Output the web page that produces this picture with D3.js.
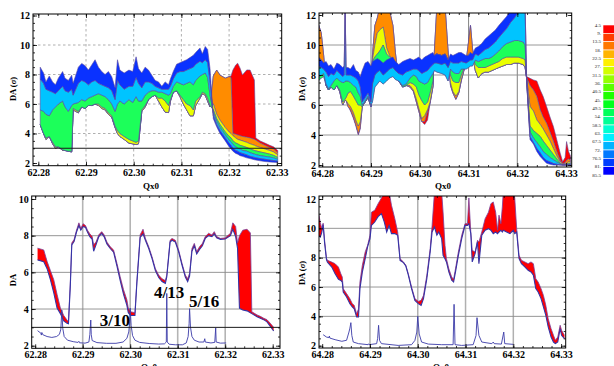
<!DOCTYPE html>
<html>
<head>
<meta charset="utf-8">
<script src="https://cdn.jsdelivr.net/npm/d3@7/dist/d3.min.js"></script>
<style>
  body { margin: 0; background: #fff; }
  svg { display: block; }
</style>
</head>
<body>
<svg id="chart" width="614" height="366"></svg>
<script>
// ---- tick values ----
const qxTicksLow = [62.28, 62.29, 62.30, 62.31, 62.32, 62.33];
const qxTicksHigh = [64.28, 64.29, 64.30, 64.31, 64.32, 64.33];
const daTicks12 = [2, 4, 6, 8, 10, 12];
const daTicks10 = [2, 4, 6, 8, 10];
const angleTicks = [4.5, 9, 13.5, 18, 22.5, 27, 31.5, 36, 40.5, 45, 49.5, 54, 58.5, 63, 67.5, 72, 76.5, 81, 85.5];

// ---- top panels: DA per launch angle, rows = [Qx0, DA@4.5, 18, 31.5, 45, 58.5, 72, 85.5] ----
const layerAngles = [4.5, 18, 31.5, 45, 58.5, 72, 85.5];
const tlLayers = [
  [62.2804, 4.6, 4.6, 4.6, 4.6, 5.6, 7.7, 8.5],
  [62.2811, 4.0, 4.0, 4.0, 4.0, 5.5, 7.4, 8.1],
  [62.2816, 3.6, 3.6, 3.6, 3.7, 5.3, 7.0, 7.5],
  [62.2823, 3.8, 3.8, 3.8, 3.8, 5.2, 6.9, 7.9],
  [62.2830, 3.3, 3.3, 3.3, 3.4, 5.6, 6.8, 7.5],
  [62.2836, 3.0, 3.0, 3.0, 3.1, 5.8, 6.7, 7.3],
  [62.2842, 3.1, 3.1, 3.1, 3.1, 6.0, 6.9, 7.75],
  [62.2851, 2.85, 2.85, 2.85, 2.9, 6.2, 7.2, 8.2],
  [62.2856, 2.85, 2.85, 2.85, 2.85, 5.8, 6.9, 7.75],
  [62.2863, 2.8, 2.8, 2.8, 2.8, 5.5, 6.8, 7.6],
  [62.2870, 2.75, 2.75, 2.75, 2.8, 5.9, 7.0, 7.95],
  [62.2873, 5.6, 5.6, 5.6, 5.7, 6.0, 6.6, 7.4],
  [62.2884, 5.4, 5.4, 5.4, 5.5, 6.1, 7.4, 8.5],
  [62.2891, 5.8, 5.8, 5.8, 5.8, 6.3, 7.6, 8.75],
  [62.2898, 5.7, 5.7, 5.7, 5.7, 6.2, 7.5, 8.6],
  [62.2905, 5.9, 5.9, 5.9, 5.9, 6.4, 7.3, 8.3],
  [62.2912, 5.9, 5.9, 5.9, 5.9, 6.5, 7.5, 8.65],
  [62.2919, 6.0, 6.0, 6.0, 6.0, 6.6, 7.6, 9.0],
  [62.2926, 5.9, 5.9, 5.9, 6.0, 6.7, 7.4, 8.5],
  [62.2933, 5.7, 5.7, 5.7, 5.8, 6.6, 7.3, 8.2],
  [62.2940, 5.6, 5.6, 5.6, 5.7, 6.5, 7.2, 8.0],
  [62.2947, 5.3, 5.3, 5.3, 5.4, 6.3, 7.1, 8.2],
  [62.2954, 5.1, 5.1, 5.1, 5.2, 6.0, 6.9, 7.85],
  [62.2961, 4.4, 4.4, 4.4, 4.5, 5.5, 6.3, 7.1],
  [62.2966, 4.0, 4.0, 4.0, 4.2, 6.0, 7.6, 9.0],
  [62.2971, 3.8, 3.8, 3.8, 4.0, 6.2, 7.3, 8.3],
  [62.2980, 3.6, 3.6, 3.6, 3.8, 6.0, 7.0, 8.1],
  [62.2990, 3.35, 3.35, 3.35, 3.6, 6.3, 7.2, 8.3],
  [62.2998, 3.3, 3.3, 3.3, 3.5, 6.1, 7.2, 8.2],
  [62.3005, 3.25, 3.25, 3.25, 3.4, 6.5, 7.8, 9.2],
  [62.3010, 3.3, 3.3, 3.3, 3.5, 6.2, 7.4, 8.4],
  [62.3017, 5.5, 5.5, 5.5, 5.6, 6.2, 7.1, 8.1],
  [62.3024, 5.8, 5.8, 5.8, 5.9, 6.6, 7.5, 8.5],
  [62.3031, 6.3, 6.3, 6.3, 6.3, 6.8, 7.5, 8.3],
  [62.3038, 6.5, 6.5, 6.5, 6.5, 6.9, 7.4, 7.95],
  [62.3045, 6.6, 6.6, 6.6, 6.6, 6.9, 7.2, 7.6],
  [62.3052, 6.2, 6.2, 6.2, 6.4, 6.8, 7.1, 7.5],
  [62.3059, 5.8, 5.8, 5.8, 6.4, 6.8, 7.0, 7.2],
  [62.3066, 5.45, 5.45, 5.45, 6.2, 6.7, 7.0, 7.5],
  [62.3073, 5.42, 5.42, 5.42, 5.9, 6.6, 7.0, 7.3],
  [62.3077, 6.2, 6.2, 6.2, 6.3, 6.7, 7.2, 7.7],
  [62.3083, 6.8, 6.8, 6.8, 6.8, 7.2, 7.7, 8.2],
  [62.3090, 6.9, 6.9, 6.9, 6.9, 7.5, 8.1, 8.7],
  [62.3097, 6.5, 6.5, 6.5, 6.6, 7.4, 8.2, 8.8],
  [62.3104, 6.0, 6.0, 6.0, 6.3, 7.3, 8.2, 8.9],
  [62.3111, 5.6, 5.6, 5.6, 6.0, 7.4, 8.3, 9.0],
  [62.3118, 5.2, 5.2, 5.2, 5.9, 7.5, 8.4, 9.15],
  [62.3125, 5.2, 5.2, 5.2, 5.6, 7.3, 8.5, 9.3],
  [62.3130, 5.9, 5.9, 5.9, 6.2, 7.6, 8.7, 9.5],
  [62.3139, 6.4, 6.4, 6.4, 6.5, 7.9, 8.9, 9.8],
  [62.3144, 6.7, 6.7, 6.7, 6.8, 8.0, 8.8, 9.4],
  [62.3150, 6.6, 6.6, 6.6, 6.7, 8.1, 9.0, 9.9],
  [62.3155, 6.2, 6.2, 6.2, 6.4, 7.8, 8.8, 9.7],
  [62.3160, 5.8, 5.8, 5.8, 5.9, 6.6, 7.5, 8.4],
  [62.3167, 7.9, 7.9, 6.0, 5.6, 5.4, 5.2, 5.0],
  [62.3174, 8.3, 8.3, 5.3, 5.0, 4.8, 4.6, 4.45],
  [62.3181, 7.95, 7.95, 4.9, 4.6, 4.4, 4.2, 4.0],
  [62.3192, 7.75, 7.75, 4.4, 4.1, 3.9, 3.7, 3.5],
  [62.3200, 7.85, 7.85, 4.1, 3.8, 3.55, 3.35, 3.1],
  [62.3204, 7.9, 7.8, 4.0, 3.7, 3.45, 3.2, 2.95],
  [62.3208, 8.3, 4.0, 3.85, 3.5, 3.25, 3.0, 2.8],
  [62.3214, 8.65, 3.95, 3.7, 3.35, 3.1, 2.85, 2.65],
  [62.3218, 8.76, 3.9, 3.6, 3.3, 3.0, 2.8, 2.6],
  [62.3223, 8.43, 3.85, 3.55, 3.2, 2.95, 2.7, 2.5],
  [62.3228, 7.97, 3.8, 3.5, 3.15, 2.85, 2.65, 2.45],
  [62.3237, 8.31, 3.75, 3.4, 3.05, 2.8, 2.55, 2.35],
  [62.3244, 8.3, 3.7, 3.3, 2.95, 2.7, 2.45, 2.3],
  [62.3253, 7.63, 3.6, 3.2, 2.85, 2.6, 2.38, 2.22],
  [62.3256, 3.7, 3.55, 3.15, 2.82, 2.57, 2.35, 2.2],
  [62.3265, 3.5, 3.35, 3.05, 2.75, 2.5, 2.3, 2.15],
  [62.3275, 3.35, 3.2, 2.95, 2.68, 2.45, 2.25, 2.1],
  [62.3285, 3.2, 3.05, 2.85, 2.6, 2.4, 2.2, 2.07],
  [62.3293, 3.1, 2.95, 2.75, 2.52, 2.35, 2.17, 2.05],
  [62.3302, 2.85, 2.7, 2.55, 2.38, 2.25, 2.12, 2.03]
];

const trLayers = [
  [64.2792, 11.4, 11.4, 9.2, 7.6, 7.8, 8.6, 9.2],
  [64.2798, 10.8, 10.8, 9.0, 7.8, 8.0, 8.5, 9.0],
  [64.2803, 9.3, 9.3, 8.8, 7.9, 8.1, 8.4, 8.8],
  [64.2808, 7.3, 7.3, 7.3, 7.3, 7.4, 8.2, 8.9],
  [64.2813, 7.0, 7.0, 7.0, 7.0, 7.1, 7.9, 8.6],
  [64.2818, 7.2, 7.2, 7.2, 7.2, 7.3, 8.1, 8.7],
  [64.2824, 7.0, 7.0, 7.0, 7.0, 7.6, 8.0, 8.4],
  [64.2830, 7.3, 7.3, 7.3, 7.3, 7.8, 8.3, 8.8],
  [64.2836, 6.9, 6.9, 6.9, 7.0, 7.6, 8.1, 8.7],
  [64.2842, 6.0, 6.0, 6.0, 6.2, 7.5, 7.9, 8.5],
  [64.2845, 6.2, 6.2, 6.2, 6.3, 7.5, 8.0, 8.6],
  [64.2847, 6.3, 6.3, 6.3, 6.4, 7.6, 12.5, 12.5],
  [64.2849, 6.3, 6.3, 6.3, 6.5, 7.6, 8.0, 8.5],
  [64.2853, 5.9, 5.9, 6.1, 6.8, 7.6, 8.0, 8.5],
  [64.2858, 5.6, 5.7, 5.9, 6.9, 7.5, 8.0, 8.4],
  [64.2864, 5.1, 5.2, 5.5, 6.6, 7.3, 7.9, 8.7],
  [64.2869, 4.6, 4.7, 5.0, 6.3, 7.2, 7.8, 8.3],
  [64.2874, 4.0, 4.1, 4.6, 6.0, 6.8, 7.6, 8.2],
  [64.2878, 4.4, 4.5, 4.9, 6.0, 6.6, 7.2, 7.9],
  [64.2882, 5.9, 5.9, 5.9, 5.9, 6.0, 6.2, 8.3],
  [64.2888, 6.2, 6.2, 6.2, 6.2, 6.3, 6.5, 8.8],
  [64.2894, 6.5, 6.5, 6.5, 6.5, 6.6, 6.8, 8.9],
  [64.2900, 5.9, 5.9, 5.9, 5.9, 6.0, 6.2, 8.6],
  [64.2903, 9.3, 9.3, 9.0, 8.9, 6.2, 7.4, 8.9],
  [64.2908, 11.3, 11.3, 10.0, 9.2, 7.2, 8.0, 9.0],
  [64.2913, 11.8, 11.8, 10.8, 9.4, 7.4, 8.2, 9.1],
  [64.2918, 12.5, 12.5, 11.0, 9.6, 7.6, 8.3, 9.0],
  [64.2925, 12.5, 12.5, 11.2, 10.0, 7.4, 8.0, 8.8],
  [64.2932, 12.5, 12.5, 9.8, 9.4, 7.6, 8.2, 9.0],
  [64.2938, 12.3, 12.3, 9.3, 9.2, 7.8, 8.4, 9.1],
  [64.2945, 11.3, 11.3, 9.0, 9.0, 7.9, 8.5, 9.2],
  [64.2950, 9.5, 9.5, 8.9, 8.9, 7.7, 8.3, 8.9],
  [64.2957, 7.6, 7.6, 7.6, 7.6, 7.6, 8.1, 8.7],
  [64.2965, 7.2, 7.2, 7.2, 7.2, 7.3, 8.0, 8.9],
  [64.2972, 7.3, 7.3, 7.3, 7.3, 7.4, 8.2, 9.0],
  [64.2980, 7.2, 7.2, 7.3, 7.5, 7.8, 8.3, 9.1],
  [64.2987, 6.9, 6.9, 7.0, 7.4, 8.0, 8.4, 9.0],
  [64.2993, 6.2, 6.2, 6.4, 7.2, 7.9, 8.4, 9.1],
  [64.2998, 5.6, 5.6, 5.8, 6.7, 7.6, 8.3, 9.2],
  [64.3004, 4.9, 4.9, 5.1, 6.3, 7.5, 8.1, 9.0],
  [64.3010, 4.7, 4.9, 5.3, 6.0, 7.4, 8.2, 9.2],
  [64.3016, 5.0, 5.6, 5.7, 6.2, 7.5, 8.3, 9.3],
  [64.3021, 6.1, 6.1, 6.2, 6.8, 7.8, 8.5, 9.4],
  [64.3027, 7.2, 7.2, 7.3, 7.6, 8.1, 8.7, 9.5],
  [64.3030, 9.6, 9.6, 9.3, 9.3, 8.3, 8.8, 9.3],
  [64.3035, 12.5, 12.5, 9.4, 9.4, 8.2, 8.8, 9.4],
  [64.3045, 12.5, 12.5, 9.3, 9.3, 8.1, 8.7, 9.3],
  [64.3052, 12.5, 12.5, 9.4, 9.4, 8.0, 8.8, 9.4],
  [64.3058, 9.6, 9.6, 9.0, 9.0, 7.6, 8.5, 9.0],
  [64.3063, 7.3, 7.3, 7.5, 8.0, 8.4, 8.9, 9.4],
  [64.3068, 6.8, 6.8, 6.9, 7.6, 8.2, 8.8, 9.3],
  [64.3074, 6.35, 6.4, 6.6, 7.5, 8.1, 8.8, 9.4],
  [64.3080, 6.8, 6.8, 6.9, 7.5, 8.1, 8.8, 9.5],
  [64.3085, 7.6, 7.6, 7.7, 8.0, 8.4, 8.9, 9.5],
  [64.3095, 8.9, 8.9, 8.8, 8.8, 8.4, 8.8, 9.3],
  [64.3100, 10.2, 10.2, 9.4, 9.3, 8.5, 8.9, 9.3],
  [64.3104, 11.3, 11.3, 9.5, 9.4, 8.6, 9.0, 9.5],
  [64.3108, 9.8, 9.8, 9.3, 9.3, 8.6, 9.0, 9.4],
  [64.3114, 8.3, 8.3, 8.3, 8.7, 9.0, 9.4, 9.8],
  [64.3120, 7.8, 7.8, 7.8, 8.5, 8.9, 9.3, 9.9],
  [64.3127, 8.1, 8.1, 8.1, 8.5, 9.0, 9.5, 10.1],
  [64.3134, 8.2, 8.2, 8.2, 8.5, 9.1, 9.7, 10.4],
  [64.3141, 8.2, 8.2, 8.2, 8.6, 9.1, 9.8, 10.6],
  [64.3148, 8.3, 8.3, 8.3, 8.7, 9.2, 10.0, 10.8],
  [64.3155, 8.4, 8.4, 8.4, 8.8, 9.4, 10.2, 11.0],
  [64.3162, 8.5, 8.5, 8.5, 8.9, 9.6, 10.5, 11.3],
  [64.3170, 8.6, 8.6, 8.6, 9.1, 9.9, 10.8, 11.6],
  [64.3178, 8.7, 8.7, 8.7, 9.2, 10.1, 11.1, 11.9],
  [64.3186, 8.7, 8.7, 8.7, 9.2, 10.2, 11.5, 12.3],
  [64.3194, 8.8, 8.8, 8.8, 9.2, 10.3, 11.8, 12.5],
  [64.3202, 8.8, 8.8, 8.8, 9.2, 10.3, 12.2, 12.5],
  [64.3212, 8.7, 8.7, 8.7, 9.1, 10.2, 12.5, 12.5],
  [64.3216, 8.5, 8.5, 8.5, 9.0, 10.0, 12.5, 12.5],
  [64.3219, 7.9, 7.85, 7.8, 7.75, 7.7, 7.65, 7.6],
  [64.3226, 7.78, 7.3, 5.9, 4.6, 4.2, 3.9, 3.7],
  [64.3233, 7.67, 7.0, 5.6, 4.3, 3.8, 3.5, 3.4],
  [64.3240, 7.6, 6.56, 5.0, 4.1, 3.5, 3.1, 2.9],
  [64.3247, 7.0, 5.67, 4.7, 3.9, 3.2, 2.8, 2.56],
  [64.3253, 6.56, 5.2, 4.4, 3.6, 2.9, 2.5, 2.35],
  [64.3260, 5.9, 4.78, 4.0, 3.3, 2.7, 2.3, 2.11],
  [64.3267, 5.2, 4.2, 3.6, 3.0, 2.5, 2.2, 2.05],
  [64.3274, 4.56, 3.6, 3.1, 2.7, 2.35, 2.1, 2.0],
  [64.3281, 3.67, 2.9, 2.6, 2.4, 2.2, 2.05, 2.0],
  [64.3288, 2.78, 2.3, 2.2, 2.1, 2.05, 2.0, 2.0],
  [64.3293, 2.22, 2.1, 2.05, 2.02, 2.0, 2.0, 2.0],
  [64.3298, 2.5, 2.15, 2.08, 2.03, 2.0, 2.0, 2.0],
  [64.3301, 3.56, 2.3, 2.1, 2.05, 2.0, 2.0, 2.0],
  [64.3305, 2.9, 2.4, 2.2, 2.1, 2.02, 2.0, 2.0],
  [64.3309, 2.6, 2.3, 2.2, 2.1, 2.05, 2.02, 2.0]
];

// ---- bottom panels: rows = [Qx0, DA upper, DA lower] ----
const blBand = [
  [62.2805, 7.32, 6.68], [62.2818, 7.22, 6.58], [62.2825, 6.6, 6.2], [62.2832, 6.1, 5.6],
  [62.2839, 5.6, 4.9], [62.2846, 4.8, 4.05], [62.2853, 4.05, 3.75], [62.2860, 3.65, 3.35],
  [62.2867, 3.4, 3.22], [62.2870, 3.3, 3.2], [62.2874, 5.5, 5.3], [62.2877, 7.6, 7.5],
  [62.2882, 7.8, 7.7], [62.2887, 8.3, 8.2], [62.2892, 8.7, 8.55], [62.2896, 8.4, 8.3],
  [62.2901, 8.65, 8.5], [62.2906, 8.55, 8.45], [62.2910, 8.3, 8.2], [62.2915, 8.1, 7.95],
  [62.2920, 7.95, 7.8], [62.2923, 7.5, 7.15], [62.2928, 7.65, 7.5], [62.2934, 8.05, 7.95],
  [62.2940, 8.22, 8.12], [62.2945, 8.05, 7.95], [62.2951, 7.65, 7.55], [62.2958, 7.4, 7.3],
  [62.2965, 7.22, 7.1], [62.2972, 6.5, 6.35], [62.2979, 5.75, 5.55], [62.2986, 5.05, 4.8],
  [62.2993, 4.5, 4.2], [62.2996, 4.05, 3.8], [62.3001, 3.85, 3.65], [62.3010, 3.8, 3.65],
  [62.3014, 5.5, 5.4], [62.3021, 8.05, 7.9], [62.3027, 8.35, 8.1], [62.3032, 7.85, 7.75],
  [62.3039, 7.4, 7.3], [62.3046, 6.85, 6.75], [62.3053, 6.2, 6.1], [62.3060, 5.85, 5.72],
  [62.3067, 5.65, 5.5], [62.3074, 5.55, 5.4], [62.3077, 5.85, 5.75], [62.3084, 7.75, 7.65],
  [62.3088, 7.85, 7.75], [62.3095, 7.75, 7.65], [62.3102, 7.22, 7.12], [62.3109, 6.5, 6.4],
  [62.3116, 5.85, 5.75], [62.3121, 5.65, 5.5], [62.3125, 5.95, 5.8], [62.3130, 7.3, 7.15],
  [62.3135, 7.58, 7.45], [62.3140, 7.13, 7.0], [62.3146, 7.4, 7.25], [62.3152, 7.58, 7.45],
  [62.3158, 7.95, 7.85], [62.3165, 8.13, 8.0], [62.3172, 8.04, 7.95], [62.3177, 8.22, 8.1],
  [62.3182, 7.95, 7.88], [62.3190, 7.85, 7.8], [62.3200, 7.88, 7.82], [62.3211, 8.13, 8.0],
  [62.3216, 8.7, 8.35], [62.3222, 8.5, 7.95], [62.3226, 7.6, 7.3], [62.3230, 8.0, 4.05],
  [62.3237, 8.3, 3.95], [62.3246, 8.35, 3.9], [62.3253, 8.15, 3.8], [62.3256, 3.85, 3.75],
  [62.3267, 3.68, 3.58], [62.3274, 3.6, 3.5], [62.3281, 3.5, 3.42], [62.3288, 3.42, 3.3],
  [62.3295, 3.22, 3.05], [62.3302, 3.0, 2.8]
];
const blResonance = [
  [62.2805, 2.82], [62.2812, 2.68], [62.2813, 2.58], [62.2814, 2.72], [62.2816, 2.6],
  [62.2825, 2.5], [62.2835, 2.45], [62.2845, 2.5], [62.2851, 2.62], [62.2854, 2.9],
  [62.2856, 3.95], [62.2858, 2.95], [62.2861, 2.5], [62.2868, 2.3], [62.2880, 2.22],
  [62.2890, 2.18], [62.2892, 2.24], [62.2893, 2.16], [62.2905, 2.14], [62.2913, 2.2],
  [62.2915, 2.6], [62.2917, 3.4], [62.2918, 2.6], [62.2920, 2.28], [62.2930, 2.17],
  [62.2950, 2.13], [62.2970, 2.13], [62.2985, 2.2], [62.2993, 2.4], [62.2997, 2.75],
  [62.2999, 3.3], [62.3000, 4.05], [62.3002, 3.1], [62.3005, 2.55], [62.3010, 2.3],
  [62.3020, 2.18], [62.3040, 2.12], [62.3060, 2.09], [62.3072, 2.1], [62.3076, 2.2],
  [62.3077, 4.85], [62.3078, 2.2], [62.3082, 2.08], [62.3095, 2.05], [62.3110, 2.05],
  [62.3118, 2.15], [62.3122, 2.5], [62.3124, 3.2], [62.3125, 4.02], [62.3127, 3.0],
  [62.3130, 2.5], [62.3135, 2.3], [62.3145, 2.2], [62.3155, 2.2], [62.3157, 2.38],
  [62.3158, 2.2], [62.3170, 2.15], [62.3178, 2.18], [62.3180, 2.97], [62.3181, 2.2],
  [62.3190, 2.14], [62.3202, 2.15]
];
const resonanceLabels = [
  { text: '3/10', qx: 62.2936, da: 3.09 },
  { text: '4/13', qx: 62.3050, da: 4.59 },
  { text: '5/16', qx: 62.3124, da: 4.13 }
];

const brBand = [
  [64.2792, 11.1, 9.5], [64.2796, 10.4, 9.4], [64.2799, 10.0, 9.7], [64.2802, 10.35, 10.25],
  [64.2805, 9.2, 9.0], [64.2809, 7.95, 7.85], [64.2811, 7.82, 7.7], [64.2820, 7.7, 7.36],
  [64.2827, 7.59, 6.9], [64.2834, 7.36, 6.52], [64.2839, 6.9, 6.45], [64.2842, 6.68, 6.34],
  [64.2844, 5.89, 5.66], [64.2851, 5.55, 5.32], [64.2858, 5.2, 4.86], [64.2863, 4.86, 4.64],
  [64.2867, 4.75, 4.52], [64.2872, 4.18, 3.96], [64.2876, 4.5, 3.96], [64.2879, 6.34, 5.89],
  [64.2884, 7.48, 7.02], [64.2890, 8.39, 7.93], [64.2895, 8.84, 8.73], [64.2900, 9.52, 9.3],
  [64.2903, 11.1, 10.2], [64.2910, 11.23, 10.43], [64.2917, 11.68, 10.8], [64.2924, 12.07, 11.0],
  [64.2930, 12.5, 10.43], [64.2935, 12.5, 9.75], [64.2940, 12.5, 10.2], [64.2945, 11.57, 9.64],
  [64.2952, 10.66, 9.64], [64.2958, 9.75, 9.53], [64.2963, 7.93, 7.82], [64.2970, 7.71, 7.66],
  [64.2975, 7.48, 7.43], [64.2980, 6.93, 6.84], [64.2987, 6.0, 5.89], [64.2994, 5.21, 5.09],
  [64.3001, 5.02, 4.87], [64.3007, 5.09, 4.75], [64.3012, 5.43, 5.21], [64.3019, 6.8, 6.57],
  [64.3026, 8.62, 8.39], [64.3030, 10.2, 9.75], [64.3035, 12.5, 10.09], [64.3040, 12.5, 9.53],
  [64.3044, 12.5, 9.75], [64.3050, 12.5, 9.3], [64.3053, 11.1, 8.16], [64.3057, 8.84, 7.93],
  [64.3060, 7.93, 7.71], [64.3065, 7.25, 7.03], [64.3071, 6.68, 6.46], [64.3075, 6.53, 6.34],
  [64.3079, 7.25, 7.03], [64.3085, 8.39, 8.16], [64.3092, 9.53, 9.3], [64.3099, 10.32, 10.2],
  [64.3104, 10.32, 10.2], [64.3107, 12.07, 10.32], [64.3111, 9.75, 9.64], [64.3114, 8.5, 7.71],
  [64.3120, 8.39, 8.28], [64.3125, 9.18, 9.07], [64.3128, 9.07, 7.59], [64.3134, 9.75, 9.53],
  [64.3141, 10.66, 9.87], [64.3148, 11.1, 9.98], [64.3153, 11.68, 9.87], [64.3158, 11.8, 9.64],
  [64.3163, 11.1, 9.75], [64.3167, 9.87, 9.64], [64.3170, 10.9, 9.75], [64.3174, 10.32, 9.87],
  [64.3177, 11.46, 9.75], [64.3179, 12.5, 9.87], [64.3186, 12.5, 9.75], [64.3193, 12.5, 9.64],
  [64.3200, 12.5, 9.87], [64.3203, 12.07, 9.64], [64.3207, 9.98, 9.75], [64.3212, 8.16, 7.93],
  [64.3217, 7.82, 7.59], [64.3224, 7.71, 7.37], [64.3231, 7.59, 7.14], [64.3237, 7.71, 7.03],
  [64.3242, 7.59, 6.8], [64.3247, 6.57, 5.89], [64.3252, 6.34, 5.66], [64.3258, 5.89, 5.21],
  [64.3263, 5.43, 4.64], [64.3268, 4.75, 4.07], [64.3273, 3.84, 3.28], [64.3279, 3.16, 2.59],
  [64.3284, 2.71, 2.25], [64.3288, 2.37, 2.14], [64.3293, 2.59, 2.25], [64.3298, 3.39, 3.16],
  [64.3301, 3.05, 2.71], [64.3307, 2.71, 2.48]
];
const brResonance = [
  [64.2802, 2.75], [64.2809, 2.59], [64.2814, 2.55], [64.2815, 2.66], [64.2816, 2.52],
  [64.2827, 2.41], [64.2841, 2.3], [64.2851, 2.37], [64.2856, 2.93], [64.2858, 3.2],
  [64.2860, 3.57], [64.2862, 2.7], [64.2865, 2.25], [64.2876, 2.14], [64.2896, 2.07],
  [64.2897, 2.13], [64.2898, 2.07], [64.2914, 2.14], [64.2916, 2.5], [64.2918, 3.39],
  [64.2920, 2.36], [64.2924, 2.14], [64.2959, 2.02], [64.2987, 2.07], [64.2994, 2.36],
  [64.2998, 2.93], [64.3000, 4.0], [64.3003, 2.8], [64.3008, 2.25], [64.3022, 2.11],
  [64.3050, 2.07], [64.3074, 2.07], [64.3076, 4.82], [64.3078, 2.07], [64.3092, 2.02],
  [64.3116, 2.07], [64.3122, 2.7], [64.3124, 3.91], [64.3128, 2.7], [64.3134, 2.25],
  [64.3155, 2.14], [64.3158, 2.25], [64.3160, 2.14], [64.3175, 2.11], [64.3180, 2.93],
  [64.3182, 2.14], [64.3200, 2.09]
];

// ---- styling ----
const FONT = '"Liberation Serif", "Times New Roman", serif';
const BAND_COLORS = ['#ff0000', '#ff8c00', '#eaff00', '#1cff5a', '#00c4ff', '#0a32ff'];
const OUTLINE = '#5c4a9e';

const svg = d3.select('#chart');
const defs = svg.append('defs');

const panels = {
  tl: { id: 'tl', frame: [33, 14, 281.7, 165.7], xd: [62.28, 62.33], xr: [38.3, 276.8], yd: [2, 12], yr: [163, 15.5],
        xTicks: qxTicksLow, yTicks: daTicks12, gridV: { c: '#9a9a9a', w: 0.8, dash: '2.5,2.5' }, gridH: { c: '#9a9a9a', w: 0.8, dash: '2.5,2.5' } },
  tr: { id: 'tr', frame: [319, 13, 571.7, 167], xd: [64.28, 64.33], xr: [322.2, 566.1], yd: [2, 12], yr: [165, 15],
        xTicks: qxTicksHigh, yTicks: daTicks12, gridV: { c: '#8c8c8c', w: 1.1 }, gridH: { c: '#8c8c8c', w: 0.9 } },
  bl: { id: 'bl', frame: [31.7, 196, 280, 348.3], xd: [62.28, 62.33], xr: [35.2, 272.7], yd: [2, 10], yr: [345.7, 199],
        xTicks: qxTicksLow, yTicks: daTicks10, gridV: { c: '#b4b4b4', w: 1.6 }, gridH: { c: '#8a8a8a', w: 0.9 } },
  br: { id: 'br', frame: [319, 196, 565.7, 348], xd: [64.28, 64.33], xr: [322.2, 561.1], yd: [2, 12], yr: [345.7, 199],
        xTicks: qxTicksHigh, yTicks: daTicks12, gridV: { c: '#b0b0b0', w: 1.5 }, gridH: { c: '#8a8a8a', w: 0.9 } }
};

function setup(cfg) {
  const x = d3.scaleLinear().domain(cfg.xd).range(cfg.xr);
  const y = d3.scaleLinear().domain(cfg.yd).range(cfg.yr);
  const [fx0, fy0, fx1, fy1] = cfg.frame;
  defs.append('clipPath').attr('id', 'clip-' + cfg.id)
    .append('rect').attr('x', fx0).attr('y', fy0).attr('width', fx1 - fx0).attr('height', fy1 - fy0);
  const root = svg.append('g');
  const grid = root.append('g');
  grid.selectAll('line.gv').data(cfg.xTicks.slice(1, -1)).join('line')
    .attr('x1', d => x(d)).attr('x2', d => x(d)).attr('y1', fy0).attr('y2', fy1)
    .attr('stroke', cfg.gridV.c).attr('stroke-width', cfg.gridV.w).attr('stroke-dasharray', cfg.gridV.dash || null);
  grid.selectAll('line.gh').data(cfg.yTicks.slice(1, -1)).join('line')
    .attr('y1', d => y(d)).attr('y2', d => y(d)).attr('x1', fx0).attr('x2', fx1)
    .attr('stroke', cfg.gridH.c).attr('stroke-width', cfg.gridH.w).attr('stroke-dasharray', cfg.gridH.dash || null);
  const plot = root.append('g').attr('clip-path', `url(#clip-${cfg.id})`);
  return { x, y, root, plot };
}

function drawLayers(ctx, rows) {
  for (let k = 0; k < layerAngles.length - 1; k++) {
    const area = d3.area()
      .x(d => ctx.x(d[0]))
      .y0(d => ctx.y(d[k + 1]))
      .y1(d => ctx.y(d[k + 2]));
    ctx.plot.append('path').datum(rows).attr('d', area)
      .attr('fill', BAND_COLORS[k]).attr('stroke', OUTLINE)
      .attr('stroke-width', 0.6).attr('stroke-linejoin', 'round');
  }
}

function drawBand(ctx, rows, res) {
  const area = d3.area().x(d => ctx.x(d[0])).y0(d => ctx.y(d[2])).y1(d => ctx.y(d[1]));
  ctx.plot.append('path').datum(rows).attr('d', area).attr('fill', '#ff0000');
  ctx.plot.append('path').datum(rows)
    .attr('d', d3.line().x(d => ctx.x(d[0])).y(d => ctx.y(d[1])))
    .attr('fill', 'none').attr('stroke', '#7a3f9a').attr('stroke-width', 0.8);
  ctx.plot.append('path').datum(rows)
    .attr('d', d3.line().x(d => ctx.x(d[0])).y(d => ctx.y(d[2])))
    .attr('fill', 'none').attr('stroke', '#3434a8').attr('stroke-width', 1.1);
  ctx.plot.append('path').datum(res)
    .attr('d', d3.line().x(d => ctx.x(d[0])).y(d => ctx.y(d[1])))
    .attr('fill', 'none').attr('stroke', '#3b3ba8').attr('stroke-width', 0.9);
}

function finish(cfg, ctx, refLine) {
  const [fx0, fy0, fx1, fy1] = cfg.frame;
  const { x, y, root } = ctx;
  if (refLine) {
    root.append('line').attr('x1', fx0).attr('x2', fx1).attr('y1', y(refLine)).attr('y2', y(refLine))
      .attr('stroke', '#1a1a1a').attr('stroke-width', 1);
  }
  const lo = Math.ceil(x.invert(fx0) / 0.002 - 1e-6), hi = Math.floor(x.invert(fx1) / 0.002 + 1e-6);
  const minorX = d3.range(lo, hi + 1).map(k => k * 0.002);
  const ylo = Math.ceil(y.invert(fy1) / 0.5), yhi = Math.floor(y.invert(fy0) / 0.5);
  const minorY = d3.range(ylo, yhi + 1).map(k => k * 0.5);

  const axes = [
    [d3.axisBottom(x).tickValues(cfg.xTicks).tickFormat(d3.format('.2f')), `translate(0,${fy1})`, 4, true],
    [d3.axisBottom(x).tickValues(minorX).tickFormat(''), `translate(0,${fy1})`, 2, false],
    [d3.axisTop(x).tickValues(cfg.xTicks).tickFormat(''), `translate(0,${fy0})`, 4, false],
    [d3.axisTop(x).tickValues(minorX).tickFormat(''), `translate(0,${fy0})`, 2, false],
    [d3.axisLeft(y).tickValues(cfg.yTicks).tickFormat(d3.format('d')), `translate(${fx0},0)`, 4, true],
    [d3.axisLeft(y).tickValues(minorY).tickFormat(''), `translate(${fx0},0)`, 2, false],
    [d3.axisRight(y).tickValues(cfg.yTicks).tickFormat(''), `translate(${fx1},0)`, 4, false],
    [d3.axisRight(y).tickValues(minorY).tickFormat(''), `translate(${fx1},0)`, 2, false]
  ];
  axes.forEach(([axis, tr, len]) => {
    const a = root.append('g').attr('transform', tr)
      .call(axis.tickSizeInner(-len).tickSizeOuter(0).tickPadding(3));
    a.select('.domain').remove();
    a.selectAll('.tick line').attr('stroke', '#000').attr('stroke-width', 0.8);
    a.selectAll('text').attr('fill', '#000').style('font-family', FONT)
      .style('font-weight', 'bold').style('font-size', '10px');
  });
  root.append('rect').attr('x', fx0).attr('y', fy0).attr('width', fx1 - fx0).attr('height', fy1 - fy0)
    .attr('fill', 'none').attr('stroke', '#000').attr('stroke-width', 1);
}

function label(text, xPos, yPos, size, rotate) {
  const t = svg.append('text').attr('text-anchor', 'middle')
    .attr('transform', `translate(${xPos},${yPos})${rotate ? ' rotate(-90)' : ''}`)
    .style('font-family', FONT).style('font-weight', 'bold').style('font-size', size + 'px');
  return t.text(text);
}
function sigmaLabel(xPos, yPos) {
  const t = svg.append('text').attr('text-anchor', 'middle')
    .attr('transform', `translate(${xPos},${yPos}) rotate(-90)`)
    .style('font-family', FONT).style('font-weight', 'bold').style('font-size', '8.5px');
  t.append('tspan').text('DA (');
  t.append('tspan').style('font-style', 'italic').text('σ');
  t.append('tspan').text(')');
}

// ---- top-left ----
const tl = setup(panels.tl);
drawLayers(tl, tlLayers);
finish(panels.tl, tl, 3);

// ---- top-right ----
const tr = setup(panels.tr);
drawLayers(tr, trLayers);
finish(panels.tr, tr, null);

// ---- bottom-left ----
const bl = setup(panels.bl);
drawBand(bl, blBand, blResonance);
finish(panels.bl, bl, 3);
resonanceLabels.forEach(r => {
  svg.append('text').attr('x', bl.x(r.qx)).attr('y', bl.y(r.da))
    .style('font-family', FONT).style('font-weight', 'bold').style('font-size', '17px').text(r.text);
});

// ---- bottom-right ----
const br = setup(panels.br);
drawBand(br, brBand, brResonance);
finish(panels.br, br, null);

// ---- axis titles ----
label('Qx0', 151, 189, 9);
label('Qx0', 443, 189, 9);
label('Qx0', 149, 370, 9);
label('Qx0', 441, 370, 9);
sigmaLabel(16, 89);
sigmaLabel(305, 89);
label('DA', 16, 280, 8.5, true);
sigmaLabel(305, 273);

// ---- colour bar (launch angle) ----
const cbX = 603, cbW = 12;
const cbY = d3.scaleLinear().domain([4.5, 85.5]).range([25, 175]);
const cb = svg.append('g');
cb.selectAll('rect').data(angleTicks.slice(0, -1)).join('rect')
  .attr('x', cbX).attr('width', cbW)
  .attr('y', (d, i) => cbY(d)).attr('height', (d, i) => cbY(angleTicks[i + 1]) - cbY(d))
  .attr('fill', (d, i) => d3.hsl(240 * i / (angleTicks.length - 2), 1, 0.5).formatHex())
  .attr('stroke', '#fff').attr('stroke-width', 0.6);
cb.selectAll('text').data(angleTicks).join('text')
  .attr('x', cbX - 2).attr('y', d => cbY(d)).attr('dy', '0.35em').attr('text-anchor', 'end')
  .style('font-family', FONT).style('font-size', '5px').attr('fill', '#222')
  .text(d => (d % 1 === 0 ? d + '.' : String(d)));
</script>
</body>
</html>
